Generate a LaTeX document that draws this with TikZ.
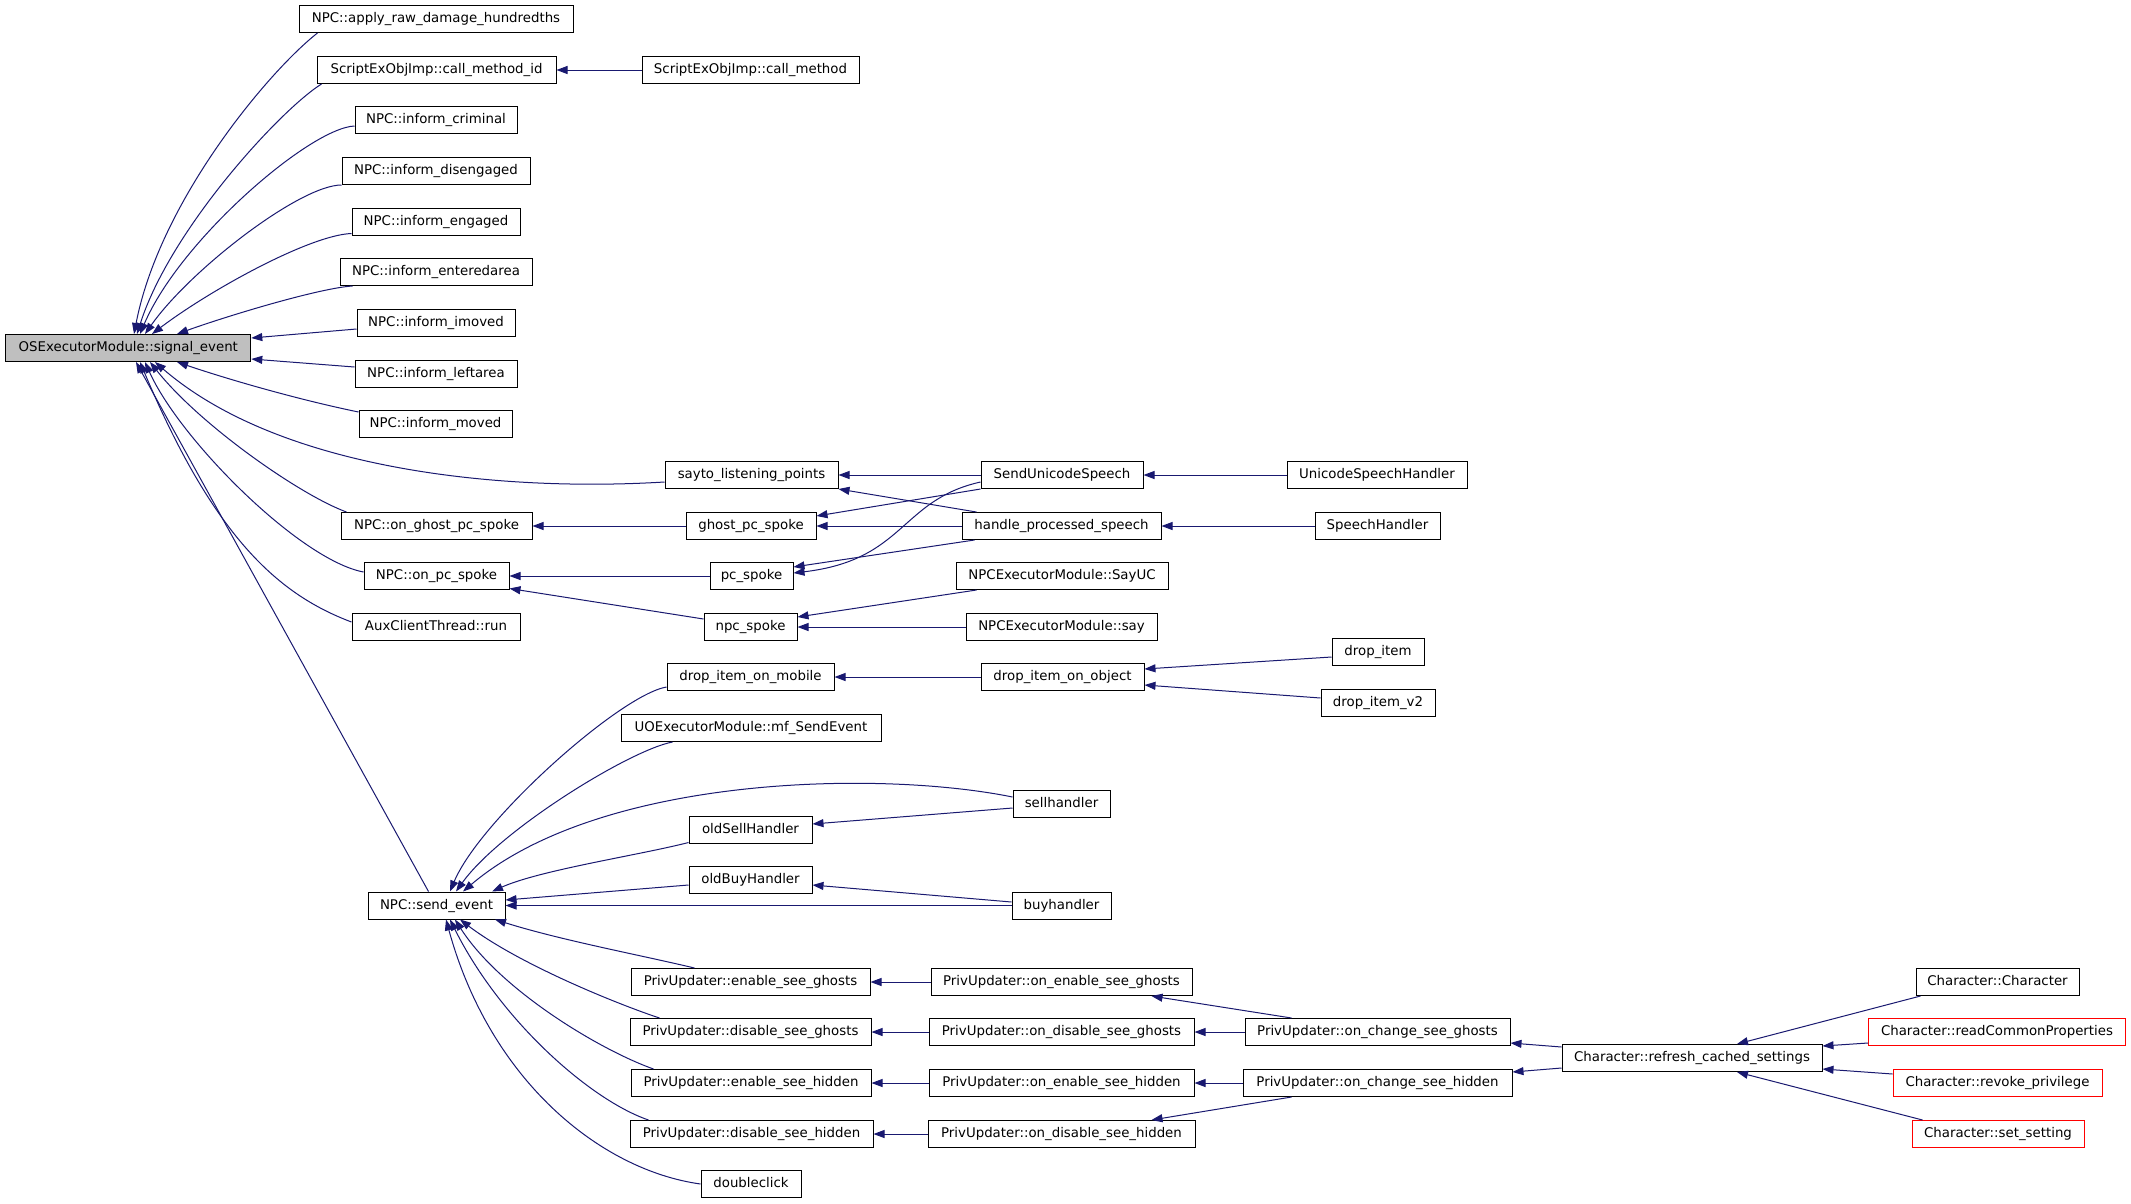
\documentclass[tikz,border=0pt]{standalone}
\usepackage{fontspec}
\setmainfont{DejaVu Sans}
\usetikzlibrary{arrows.meta}
\definecolor{dxblue}{RGB}{25,25,112}
\definecolor{dxred}{RGB}{255,0,0}
\definecolor{dxgray}{RGB}{191,191,191}
\begin{document}
\begin{tikzpicture}[x=1pt,y=-1pt,
  box/.style={draw=black, line width=1pt, fill=white, minimum height=27pt, inner sep=0pt,
    text height=10pt, text depth=3pt, font=\fontsize{13.33}{16}\selectfont, anchor=center},
  redbox/.style={box, draw=dxred},
  edg/.style={draw=dxblue, line width=1pt, -{Triangle[length=11pt,width=8pt]}}]
\useasboundingbox[fill=white] (0,0) rectangle (2131,1203);
% column A
\node[box, fill=dxgray, minimum width=245pt] (se) at (128.3,348) {OSExecutorModule::signal\_event};
% column B
\node[box, minimum width=274pt] (ard) at (436,19) {NPC::apply\_raw\_damage\_hundredths};
\node[box, minimum width=239pt] (cmi) at (436.5,70) {ScriptExObjImp::call\_method\_id};
\node[box, minimum width=162pt] (icr) at (436,120) {NPC::inform\_criminal};
\node[box, minimum width=188pt] (idis) at (436,171) {NPC::inform\_disengaged};
\node[box, minimum width=168pt] (ieng) at (436,222) {NPC::inform\_engaged};
\node[box, minimum width=192pt] (ient) at (436,272) {NPC::inform\_enteredarea};
\node[box, minimum width=158pt] (iimo) at (436,323) {NPC::inform\_imoved};
\node[box, minimum width=162pt] (ilef) at (436,374) {NPC::inform\_leftarea};
\node[box, minimum width=153pt] (imov) at (435.5,424) {NPC::inform\_moved};
\node[box, minimum width=191pt] (ogps) at (436.5,526) {NPC::on\_ghost\_pc\_spoke};
\node[box, minimum width=145pt] (ops) at (436.5,576) {NPC::on\_pc\_spoke};
\node[box, minimum width=168pt] (aux) at (436,627) {AuxClientThread::run};
\node[box, minimum width=137pt] (sev) at (436.5,905.5) {NPC::send\_event};
% column C
\node[box, minimum width=217pt] (cm) at (750.5,70) {ScriptExObjImp::call\_method};
\node[box, minimum width=173pt] (sayto) at (751.5,475) {sayto\_listening\_points};
\node[box, minimum width=130pt] (gps) at (751,526) {ghost\_pc\_spoke};
\node[box, minimum width=83pt] (pcs) at (751.5,576) {pc\_spoke};
\node[box, minimum width=93pt] (npcs) at (750.5,627) {npc\_spoke};
\node[box, minimum width=167pt] (dim) at (750.5,677) {drop\_item\_on\_mobile};
\node[box, minimum width=260pt] (mfs) at (751,728) {UOExecutorModule::mf\_SendEvent};
\node[box, minimum width=123pt] (osh) at (750.5,829.5) {oldSellHandler};
\node[box, minimum width=123pt] (obh) at (750.5,880) {oldBuyHandler};
\node[box, minimum width=239pt] (esg) at (750.5,982) {PrivUpdater::enable\_see\_ghosts};
\node[box, minimum width=241pt] (dsg) at (750.5,1032) {PrivUpdater::disable\_see\_ghosts};
\node[box, minimum width=240pt] (esh) at (751,1083) {PrivUpdater::enable\_see\_hidden};
\node[box, minimum width=243pt] (dsh) at (751.5,1134) {PrivUpdater::disable\_see\_hidden};
\node[box, minimum width=100pt] (dbl) at (751,1184) {doubleclick};
% column D
\node[box, minimum width=162pt] (sus) at (1062,475) {SendUnicodeSpeech};
\node[box, minimum width=199pt] (hps) at (1061.5,526) {handle\_processed\_speech};
\node[box, minimum width=212pt] (sayuc) at (1062,576) {NPCExecutorModule::SayUC};
\node[box, minimum width=191pt] (say) at (1061.5,627) {NPCExecutorModule::say};
\node[box, minimum width=163pt] (dio) at (1062.5,677) {drop\_item\_on\_object};
\node[box, minimum width=97pt] (sell) at (1061.5,804) {sellhandler};
\node[box, minimum width=99pt] (buy) at (1061.5,905.5) {buyhandler};
\node[box, minimum width=261pt] (oesg) at (1061.5,982) {PrivUpdater::on\_enable\_see\_ghosts};
\node[box, minimum width=265pt] (odsg) at (1061.5,1032) {PrivUpdater::on\_disable\_see\_ghosts};
\node[box, minimum width=265pt] (oesh) at (1061.5,1083) {PrivUpdater::on\_enable\_see\_hidden};
\node[box, minimum width=267pt] (odsh) at (1061.5,1134) {PrivUpdater::on\_disable\_see\_hidden};
% column E
\node[box, minimum width=180pt] (ush) at (1377,475) {UnicodeSpeechHandler};
\node[box, minimum width=125pt] (sh) at (1377.5,526) {SpeechHandler};
\node[box, minimum width=92pt] (di) at (1378,652) {drop\_item};
\node[box, minimum width=114pt] (div2) at (1378,703) {drop\_item\_v2};
\node[box, minimum width=265pt] (ocsg) at (1377.5,1032) {PrivUpdater::on\_change\_see\_ghosts};
\node[box, minimum width=269pt] (ocsh) at (1377.5,1083) {PrivUpdater::on\_change\_see\_hidden};
% column F
\node[box, minimum width=260pt] (rcs) at (1692,1058) {Character::refresh\_cached\_settings};
% column G
\node[box, minimum width=163pt] (cc) at (1997.5,982) {Character::Character};
\node[redbox, minimum width=257pt] (rcp) at (1997,1032) {Character::readCommonProperties};
\node[redbox, minimum width=209pt] (rp) at (1997.5,1083) {Character::revoke\_privilege};
\node[redbox, minimum width=172pt] (ss) at (1998,1134) {Character::set\_setting};
% edges into signal_event
\draw[edg] ([xshift=19pt]ard.south west) .. controls (270,70) and (160,200) .. ([xshift=5.7pt]se.north);
\draw[edg] ([xshift=5pt]cmi.south west) .. controls (280,110) and (170,230) .. ([xshift=8.7pt]se.north);
\draw[edg] ([yshift=-6pt]icr.west) .. controls (310,128) and (180,240) .. ([xshift=11.7pt]se.north);
\draw[edg] (idis.south west) .. controls (300,185) and (190,270) .. ([xshift=16.7pt]se.north);
\draw[edg] ([yshift=2.5pt]ieng.south west) .. controls (310,235) and (210,290) .. ([xshift=23.7pt]se.north);
\draw[edg] ([xshift=13pt]ient.south west) .. controls (320,288) and (230,315) .. ([xshift=48.7pt]se.north);
\draw[edg] ([yshift=-6pt]iimo.west) -- ([yshift=10pt]se.east);
\draw[edg] ([yshift=7pt]ilef.west) -- ([yshift=-11pt]se.east);
\draw[edg] ([yshift=12pt]imov.west) .. controls (300,400) and (230,380) .. ([xshift=48.7pt]se.south);
\draw[edg] ([yshift=-7pt]sayto.west) .. controls (500,492) and (280,470) .. ([xshift=26.7pt]se.south);
\draw[edg] ([xshift=6pt]ogps.north west) .. controls (300,495) and (200,425) .. ([xshift=21.7pt]se.south);
\draw[edg] ([yshift=4pt]ops.west) .. controls (300,560) and (180,440) .. ([xshift=16.7pt]se.south);
\draw[edg] ([yshift=5pt]aux.west) .. controls (280,595) and (215,540) .. ([xshift=11.7pt]se.south);
\draw[edg] ([xshift=-8pt]sev.north) -- ([xshift=7.7pt]se.south);
% upper chains
\draw[edg] (cm.west) -- (cmi.east);
\draw[edg] (gps.west) -- (ogps.east);
\draw[edg] (pcs.west) -- (ops.east);
\draw[edg] ([yshift=8pt]npcs.west) -- ([yshift=1.5pt]ops.south east);
\draw[edg] (sus.west) -- (sayto.east);
\draw[edg] ([xshift=15pt]hps.north west) -- (sayto.south east);
\draw[edg] (sus.south west) -- ([yshift=10pt]gps.east);
\draw[edg] (hps.west) -- (gps.east);
\draw[edg] ([yshift=-7pt]sus.west) .. controls (900,500) and (905,560) .. ([yshift=3pt]pcs.east);
\draw[edg] ([xshift=13pt]hps.south west) -- ([yshift=9pt]pcs.east);
\draw[edg] (ush.west) -- (sus.east);
\draw[edg] (sh.west) -- (hps.east);
\draw[edg] ([xshift=21pt]sayuc.south west) -- ([yshift=10pt]npcs.east);
\draw[edg] (say.west) -- (npcs.east);
\draw[edg] (dio.west) -- (dim.east);
\draw[edg] ([yshift=-5pt]di.west) -- ([yshift=8pt]dio.east);
\draw[edg] ([yshift=5pt]div2.west) -- ([yshift=-8pt]dio.east);
% into send_event
\draw[edg] ([yshift=-10pt]dim.west) .. controls (620,695) and (480,820) .. ([xshift=13.5pt]sev.north);
\draw[edg] ([xshift=52pt]mfs.south west) .. controls (630,750) and (500,830) .. ([xshift=19.5pt]sev.north);
\draw[edg] ([yshift=7pt]sell.west) .. controls (880,770) and (600,775) .. ([xshift=26.5pt]sev.north);
\draw[edg] ([yshift=1pt]osh.south west) .. controls (640,855) and (540,870) .. ([xshift=55.5pt]sev.north);
\draw[edg] ([yshift=-4pt]sell.west) -- ([yshift=5.5pt]osh.east);
\draw[edg] ([yshift=-5pt]obh.west) -- ([yshift=5.5pt]sev.east);
\draw[edg] (buy.west) -- (sev.east);
\draw[edg] ([yshift=3.5pt]buy.west) -- ([yshift=-5pt]obh.east);
\draw[edg] ([xshift=64pt]esg.north west) .. controls (640,955) and (560,940) .. ([xshift=58.5pt]sev.south);
\draw[edg] ([xshift=30pt]dsg.north west) .. controls (620,1005) and (520,965) .. ([xshift=23.5pt]sev.south);
\draw[edg] ([xshift=23pt]esh.north west) .. controls (600,1050) and (500,990) .. ([xshift=18.5pt]sev.south);
\draw[edg] ([xshift=19pt]dsh.north west) .. controls (590,1100) and (500,1020) .. ([xshift=13.5pt]sev.south);
\draw[edg] (dbl.west) .. controls (600,1170) and (490,1080) .. ([xshift=9.5pt]sev.south);
% priv updater chains
\draw[edg] (oesg.west) -- (esg.east);
\draw[edg] (odsg.west) -- (dsg.east);
\draw[edg] (oesh.west) -- (esh.east);
\draw[edg] (odsh.west) -- (dsh.east);
\draw[edg] ([xshift=47pt]ocsg.north west) -- ([xshift=-41pt]oesg.south east);
\draw[edg] (ocsg.west) -- (odsg.east);
\draw[edg] (ocsh.west) -- (oesh.east);
\draw[edg] ([xshift=49pt]ocsh.south west) -- ([xshift=-44pt]odsh.north east);
\draw[edg] ([yshift=11pt]rcs.west) -- ([yshift=-11pt]ocsg.east);
\draw[edg] ([yshift=-10pt]rcs.west) -- ([yshift=11pt]ocsh.east);
\draw[edg] ([xshift=5pt]cc.south west) -- ([xshift=45pt]rcs.north);
\draw[edg] ([yshift=-11pt]rcp.west) -- ([yshift=12pt]rcs.east);
\draw[edg] ([yshift=9pt]rp.west) -- ([yshift=-11pt]rcs.east);
\draw[edg] ([xshift=11pt]ss.north west) -- ([xshift=45pt]rcs.south);
\end{tikzpicture}
\end{document}
